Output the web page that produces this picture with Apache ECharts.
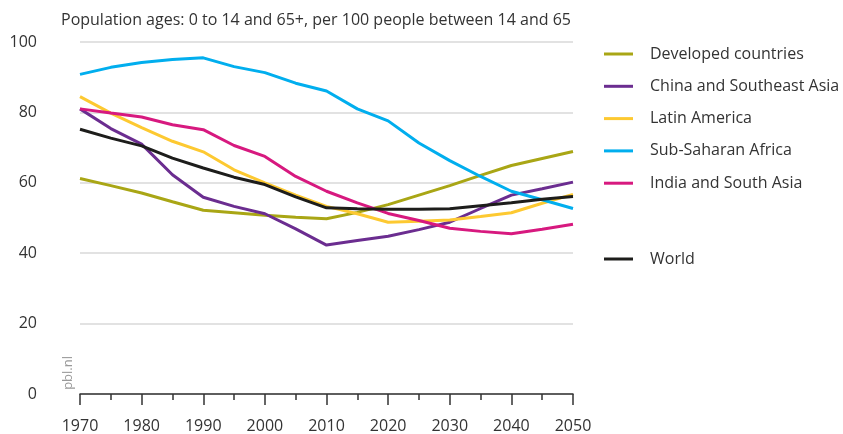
<!DOCTYPE html>
<html><head><meta charset="utf-8">
<script src="https://cdn.jsdelivr.net/npm/echarts@6/dist/echarts.min.js"></script>
<style>html,body{margin:0;padding:0;background:#fff}#c{width:843px;height:434px}</style>
</head><body><div id="c"></div>
<script>
const years = [1970,1975,1980,1985,1990,1995,2000,2005,2010,2015,2020,2025,2030,2035,2040,2045,2050];
const developed = [61.2,59.2,57.1,54.6,52.2,51.5,50.8,50.2,49.8,51.6,53.8,56.5,59.2,62.1,64.9,66.9,68.9];
const china = [81.0,75.4,71.0,62.3,55.9,53.3,51.2,46.9,42.3,43.6,44.8,46.7,48.8,52.7,56.5,58.3,60.2];
const latin = [84.5,79.8,75.7,71.8,68.8,63.7,60.0,56.5,53.3,51.2,48.8,49.1,49.4,50.4,51.5,54.2,56.7];
const ssa = [90.8,92.8,94.2,95.0,95.5,93.0,91.3,88.3,86.1,81.0,77.6,71.3,66.3,61.8,57.6,55.2,52.7];
const india = [81.0,79.8,78.7,76.5,75.1,70.6,67.5,61.8,57.6,54.3,51.3,49.3,47.1,46.2,45.5,46.8,48.2];
const world = [75.2,72.7,70.5,67.0,64.2,61.6,59.5,56.0,52.9,52.6,52.5,52.5,52.6,53.5,54.3,55.3,56.1];
const yTicks = [0,20,40,60,80,100];
const names = ['Developed countries','China and Southeast Asia','Latin America','Sub-Saharan Africa','India and South Asia','World'];
const colors = ['#a9a615','#6b2d90','#fdc931','#01aeee','#d7197f','#1d1d1b'];
const seriesData = [developed, china, latin, ssa, india, world];
const font = '"Open Sans", sans-serif';

const chart = echarts.init(document.getElementById('c'), null, {renderer:'canvas'});
const series = names.map((n,i)=>({
  name:n, type:'line', symbol:'none', animation:false,
  data: years.map((y,k)=>[y, seriesData[i][k]]),
  lineStyle:{width:3, color:colors[i]}, itemStyle:{color:colors[i]},
  z: i===5 ? 3 : 2
}));
const legendText = {fontFamily:font, fontSize:16, color:'#333', padding:[0,0,0,12]};
chart.setOption({
  animation:false,
  title:{text:'Population ages: 0 to 14 and 65+, per 100 people between 14 and 65', left:56, top:7,
    textStyle:{fontFamily:font, fontSize:16, fontWeight:'normal', color:'#333'}},
  grid:{left:80, right:270, top:42, bottom:39, containLabel:false},
  legend:[
    {data:names.slice(0,5), orient:'vertical', left:604, top:46, padding:0, icon:'rect', itemWidth:29, itemHeight:3,
     itemGap:16.3, textStyle:legendText, selectedMode:false},
    {data:['World'], orient:'vertical', left:604, top:251, padding:0, icon:'rect', itemWidth:29, itemHeight:3,
     textStyle:legendText, selectedMode:false}
  ],
  xAxis:{type:'value', min:1970, max:2050, interval:10,
    axisLine:{show:true, lineStyle:{color:'#333', width:1.5}},
    axisTick:{show:true, length:11, lineStyle:{color:'#333', width:1.5}},
    minorTick:{show:true, splitNumber:2, length:6, lineStyle:{color:'#333', width:1.5}},
    splitLine:{show:false},
    axisLabel:{fontFamily:font, fontSize:16, color:'#333', margin:24, formatter:v=>String(v)}},
  yAxis:{type:'value', min:0, max:100, interval:20,
    axisLine:{show:false}, axisTick:{show:false},
    splitLine:{lineStyle:{color:'#d9d9d9', width:1.5}},
    axisLabel:{fontFamily:font, fontSize:16, color:'#333', margin:43,
      formatter:v=>yTicks.includes(v)?String(v):''}},
  graphic:[{type:'text', left:62, top:356, rotation:Math.PI/2,
    style:{text:'pbl.nl', fontFamily:font, fontSize:13, fill:'#999'}}],
  series
});
</script></body></html>
